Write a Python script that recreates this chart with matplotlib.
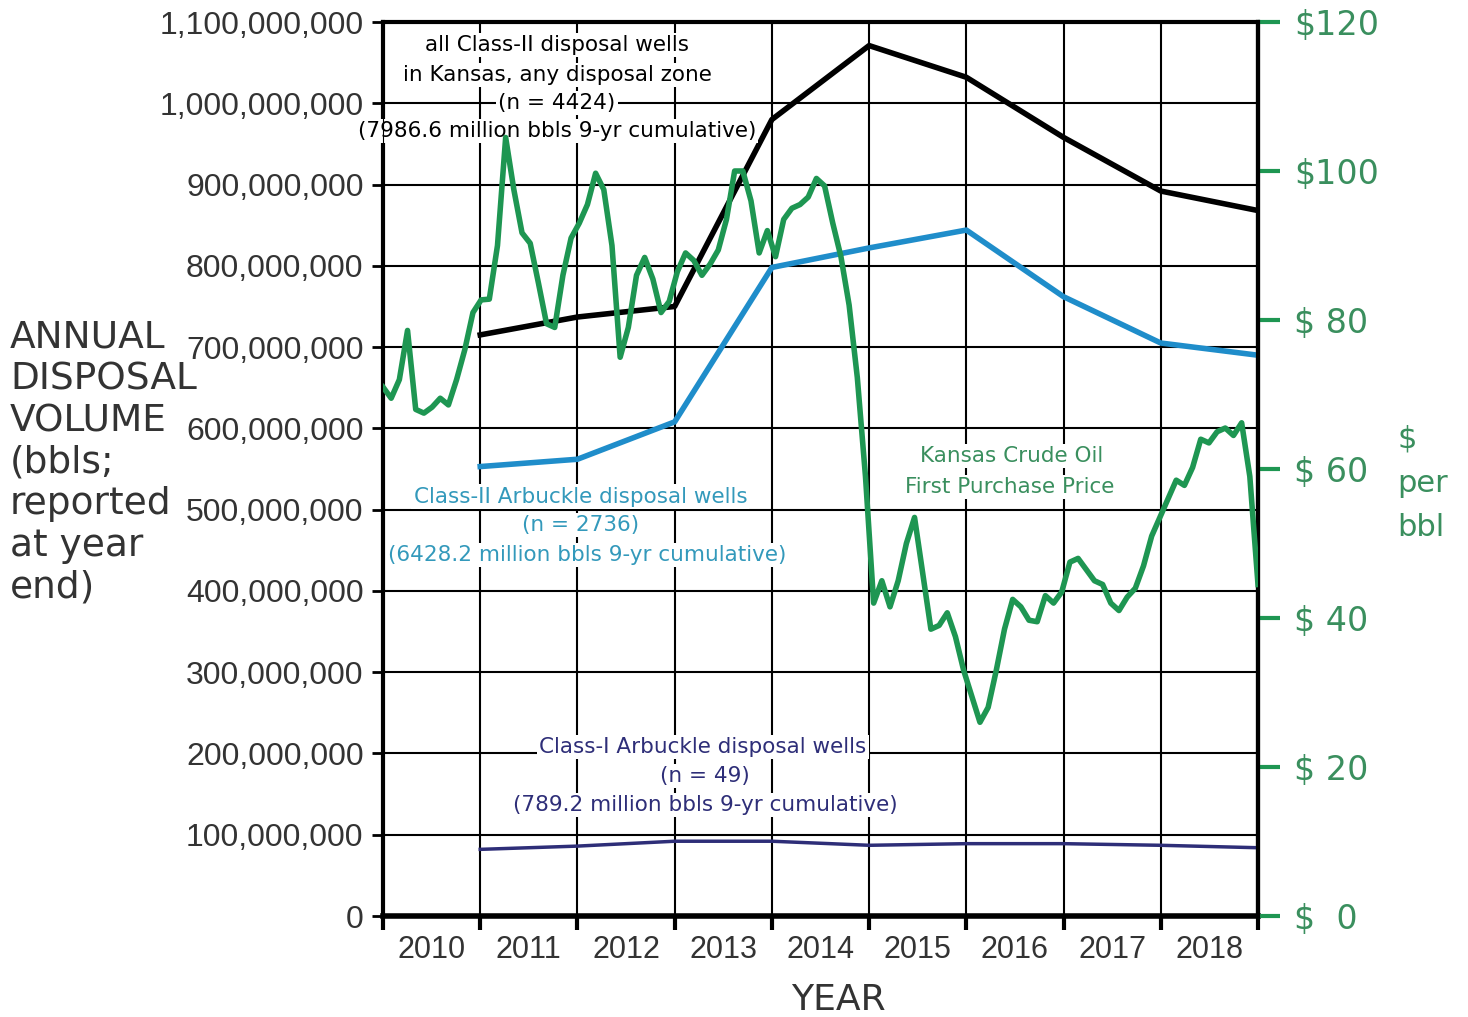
import numpy as np
import matplotlib
matplotlib.use("Agg")
import matplotlib.pyplot as plt
from matplotlib import font_manager

# -----------------------------
# Data
# -----------------------------

years = [2010, 2011, 2012, 2013, 2014, 2015, 2016, 2017, 2018]

# annual disposal volume, millions of bbls (plotted at year end)
class2_all = [715, 737, 750, 980, 1071, 1032, 958, 892, 868]
class2_arbuckle = [553, 562, 608, 798, 822, 844, 762, 705, 690]
class1_arbuckle = [82, 86, 92, 92, 87, 89, 89, 87, 84]

# Kansas crude oil first purchase price, $/bbl, monthly Jan 2010 - Dec 2018
oil_price = [
    71, 69.5, 72, 78.6, 68, 67.5, 68.3, 69.5, 68.6, 72, 76, 81,
    82.7, 82.8, 90, 104.5, 97.5, 91.7, 90.3, 85, 79.5, 79, 86, 91,
    93, 95.5, 99.7, 97.5, 90, 75, 79, 86, 88.4, 85.5, 81, 82.5,
    86.5, 89, 88, 86, 87.5, 89.4, 93.5, 100, 100, 96, 89, 92,
    88.5, 93.5, 95, 95.5, 96.5, 99, 98, 93, 88.5, 82, 72.3, 59,
    42, 45, 41.5, 45, 50, 53.5, 46, 38.5, 39, 40.7, 37.5, 33,
    29.5, 26, 28, 33, 38.5, 42.5, 41.5, 39.7, 39.5, 43, 42, 43.5,
    47.5, 48, 46.5, 45, 44.5, 42, 41, 42.8, 44, 47, 51, 53.5,
    56, 58.5, 57.8, 60.2, 64, 63.5, 65, 65.5, 64.5, 66.2, 59, 44.5,
]

left_ticks = list(range(0, 1100000001, 100000000))
right_ticks = [0, 20, 40, 60, 80, 100, 120]
right_labels = ["$  0", "$ 20", "$ 40", "$ 60", "$ 80", "$100", "$120"]

# -----------------------------
# Fonts / colours
# -----------------------------

names = {f.name for f in font_manager.fontManager.ttflist}
NARROW = "Liberation Sans Narrow" if "Liberation Sans Narrow" in names else "Liberation Sans"
WIDE = "DejaVu Sans"

GREEN = "#1e9652"
GREEN_TXT = "#3a8f5e"
BLUE = "#1f8dca"
BLUE_TXT = "#3399bb"
NAVY = "#2e2e78"
TXT = "#333333"

# -----------------------------
# Figure
# -----------------------------

fig = plt.figure(figsize=(14.68, 10.17), dpi=100)
ax = fig.add_axes([383 / 1468, 101 / 1017, 875 / 1468, 894 / 1017])

year_end = [y + 1 for y in years]
ax.plot(year_end, np.array(class2_arbuckle) * 1e6, color=BLUE, lw=4, zorder=3)
ax.plot(year_end, np.array(class1_arbuckle) * 1e6, color=NAVY, lw=2.5, zorder=3)
ax.plot(year_end, np.array(class2_all) * 1e6, color="black", lw=4, zorder=3)

ax.set_xlim(2010, 2019)
ax.set_ylim(0, 1100000000)
ax.set_yticks(left_ticks)
ax.set_yticklabels([f"{v:,}" for v in left_ticks], fontsize=23, family=NARROW, color=TXT)
ax.set_xticks(range(2010, 2020))
ax.set_xticklabels([])
ax.set_xticks([y + 0.5 for y in years], minor=True)
ax.set_xticklabels([str(y) for y in years], minor=True, fontsize=22, family=NARROW, color=TXT)
ax.tick_params(axis="x", which="minor", length=0, pad=14)
ax.tick_params(axis="x", which="major", length=10, width=3, direction="out")
ax.tick_params(axis="y", length=8, width=2, pad=6)
ax.grid(True, which="major", color="black", lw=1.5)
ax.set_axisbelow(True)

for side, w in [("left", 3), ("bottom", 4), ("top", 3), ("right", 3)]:
    ax.spines[side].set_linewidth(w)

# -----------------------------
# Oil price on right axis
# -----------------------------

ax2 = ax.twinx()
months = np.linspace(2010, 2019, len(oil_price))
ax2.plot(months, oil_price, color=GREEN, lw=4, zorder=4)
ax2.set_ylim(0, 120)
ax2.set_yticks(right_ticks)
ax2.set_yticklabels(right_labels, fontsize=24, family=WIDE, color=GREEN_TXT)
ax2.tick_params(axis="y", length=16, width=3, color=GREEN, pad=10)
ax2.spines["right"].set_linewidth(3)

# -----------------------------
# Annotations
# -----------------------------

box = dict(facecolor="white", edgecolor="none", pad=1.5)


def label(x, y_mil, s, color):
    ax.text(x, y_mil * 1e6, s, ha="center", va="center", fontsize=15.5,
            family=WIDE, color=color, bbox=box, zorder=5, clip_on=False)


label(2011.79, 1072, "all Class-II disposal wells", "black")
label(2011.79, 1035, "in Kansas, any disposal zone", "black")
label(2011.79, 1000, "(n = 4424)", "black")
label(2011.79, 966, "(7986.6 million bbls 9-yr cumulative)", "black")

label(2012.03, 516, "Class-II Arbuckle disposal wells", BLUE_TXT)
label(2012.03, 481, "(n = 2736)", BLUE_TXT)
label(2012.10, 444, "(6428.2 million bbls 9-yr cumulative)", BLUE_TXT)

label(2013.29, 208, "Class-I Arbuckle disposal wells", NAVY)
label(2013.31, 172, "(n = 49)", NAVY)
label(2013.32, 137, "(789.2 million bbls 9-yr cumulative)", NAVY)

label(2016.47, 566, "Kansas Crude Oil", GREEN_TXT)
label(2016.45, 528, "First Purchase Price", GREEN_TXT)

fig.text(10 / 1468, 1 - 320 / 1017,
         "ANNUAL\nDISPOSAL\nVOLUME\n(bbls;\nreported\nat year\nend)",
         ha="left", va="top", fontsize=27, family=WIDE, color=TXT, linespacing=1.2)
fig.text(1397 / 1468, 1 - 425 / 1017, "$\nper\nbbl",
         ha="left", va="top", fontsize=22, family=WIDE, color=GREEN_TXT, linespacing=1.65)
fig.text(838 / 1468, 1 - 1000 / 1017, "YEAR", ha="center", va="center",
         fontsize=26, family=WIDE, color=TXT)

fig.savefig("out.png", dpi=100, facecolor="white")
